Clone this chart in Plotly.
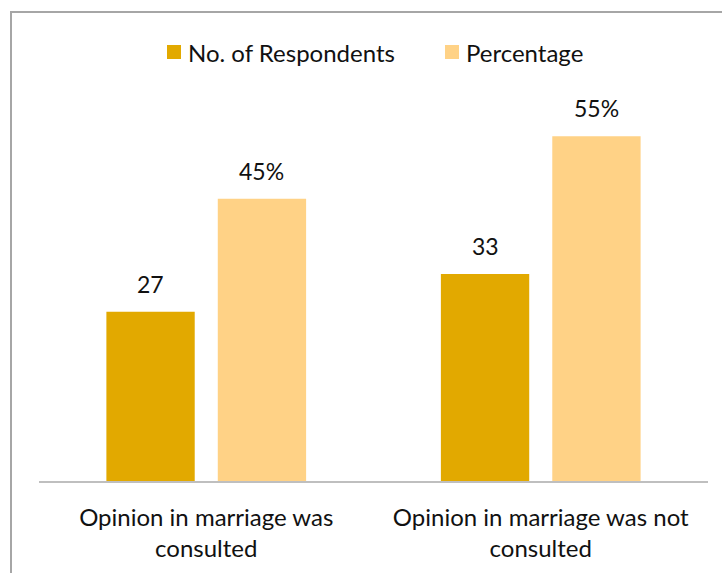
import plotly.graph_objects as go

# Survey results: whether the respondent's opinion was sought at marriage
categories = ["Opinion in marriage was<br>consulted", "Opinion in marriage was not<br>consulted"]
series_names = ["No. of Respondents", "Percentage"]
respondents = [27, 33]
percentage = [45, 55]

COL_RESP = "#E2A900"
COL_PCT = "#FFD286"
FONT = "Lato, 'Open Sans', sans-serif"
FS = 24

fig = go.Figure()
fig.add_trace(go.Bar(name=series_names[0], x=categories, y=respondents,
                     marker=dict(color=COL_RESP, line=dict(width=0))))
fig.add_trace(go.Bar(name=series_names[1], x=categories, y=percentage,
                     marker=dict(color=COL_PCT, line=dict(width=0))))

# value labels above each bar
annotations = []
for cat, v in zip(categories, respondents):
    annotations.append(dict(x=cat, y=v, text=str(v), xshift=-55.5, yshift=12,
                            yanchor="bottom", showarrow=False,
                            font=dict(size=FS - 1, color="#111111", family=FONT)))
for cat, v in zip(categories, percentage):
    annotations.append(dict(x=cat, y=v, text=f"{v}%", xshift=55.5, yshift=12,
                            yanchor="bottom", showarrow=False,
                            font=dict(size=FS - 1, color="#111111", family=FONT)))

L, R, T, B = 39, 14, 105, 92
W, H = 722, 573
pw, ph = W - L - R, H - T - B


def px_x(x):
    return (x - L) / pw


def px_y(y):
    return (H - B - y) / ph


# legend drawn as swatch + label pairs across the top
shapes = [dict(type="rect", xref="paper", yref="paper",
               x0=px_x(11), x1=1.2, y0=-0.5, y1=px_y(12),
               line=dict(color="#A6A6A6", width=2), layer="below")]
legend_items = [(series_names[0], COL_RESP, 167), (series_names[1], COL_PCT, 445)]
for name, col, x0 in legend_items:
    shapes.append(dict(type="rect", xref="paper", yref="paper",
                       x0=px_x(x0), x1=px_x(x0 + 14), y0=px_y(59), y1=px_y(45),
                       fillcolor=col, line=dict(width=0)))
    annotations.append(dict(xref="paper", yref="paper", x=px_x(x0 + 19), y=px_y(52),
                            xanchor="left", yanchor="middle", text=name,
                            showarrow=False,
                            font=dict(size=FS, color="#111111", family=FONT)))

fig.update_layout(
    width=W, height=H,
    margin=dict(l=L, r=R, t=T, b=B),
    paper_bgcolor="white", plot_bgcolor="white",
    barmode="group", bargap=0.334, bargroupgap=0.207,
    font=dict(family=FONT, size=FS, color="#111111"),
    showlegend=False,
    annotations=annotations,
    shapes=shapes,
    xaxis=dict(showline=True, linecolor="#BFBFBF", linewidth=1.5, ticks="",
               tickfont=dict(size=FS), showgrid=False, ticklabelstandoff=14),
    yaxis=dict(range=[0, ph / 6.27], visible=False, showgrid=False),
)

fig.write_html("out.html")
